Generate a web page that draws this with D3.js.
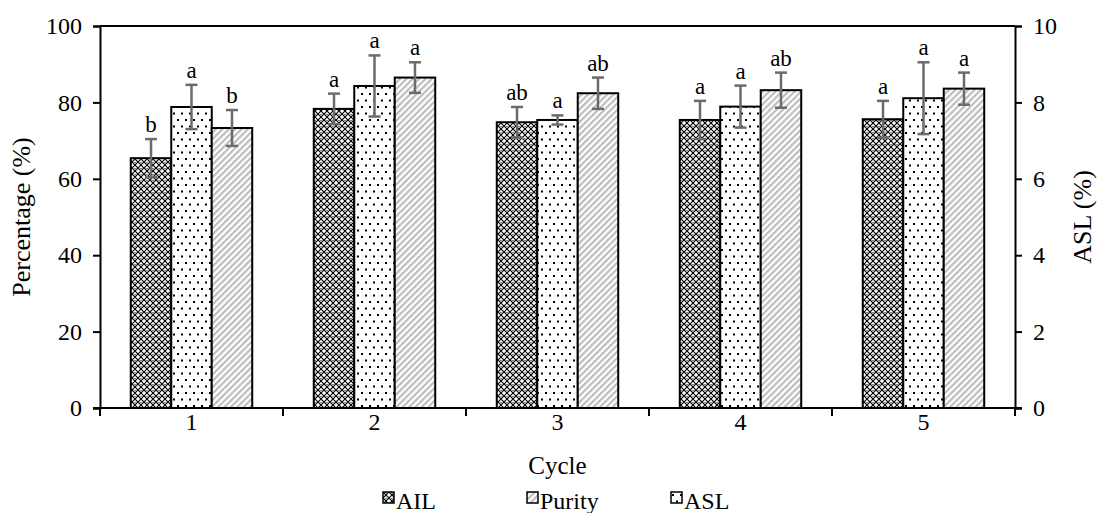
<!DOCTYPE html>
<html>
<head>
  <meta charset="utf-8">
  <title>Cycle chart</title>
  <script type="text/javascript" src="https://d3js.org/d3.v7.min.js"></script>
  <style>
    body { margin: 0; background: #fff; }
    text { font-family: "Liberation Serif", "Times New Roman", serif; fill: #000; }
  </style>
</head>
<body>
<script type="text/javascript">
  // chart data
  var cycles = ["1", "2", "3", "4", "5"];
  var ailValues = [65.4, 78.3, 74.8, 75.4, 75.6];
  var ailErrors = [5.0, 4.0, 4.0, 5.0, 4.8];
  var ailLetters = ["b", "a", "ab", "a", "a"];
  // ASL is read on the right axis (0-10)
  var aslValues = [7.88, 8.43, 7.54, 7.89, 8.11];
  var aslErrors = [0.58, 0.80, 0.12, 0.55, 0.94];
  var aslLetters = ["a", "a", "a", "a", "a"];
  var purityValues = [73.3, 86.5, 82.4, 83.2, 83.6];
  var purityErrors = [4.7, 4.0, 4.1, 4.6, 4.2];
  var purityLetters = ["b", "a", "ab", "ab", "a"];
  var leftTicks = [0, 20, 40, 60, 80, 100];
  var rightTicks = [0, 2, 4, 6, 8, 10];
  var legendOrder = ["AIL", "Purity", "ASL"];

  var w = 1097, h = 513;
  var pLeft = 100, pRight = 1015, pTop = 26, pBottom = 408;

  var svg = d3.select("body").append("svg")
              .attr("width", w)
              .attr("height", h);

  var defs = svg.append("defs");
  // crossed mesh for AIL
  var p1 = defs.append("pattern").attr("id", "pat-ail")
               .attr("patternUnits", "userSpaceOnUse")
               .attr("width", 6).attr("height", 6);
  p1.append("rect").attr("width", 6).attr("height", 6).attr("fill", "#fff");
  p1.append("path").attr("d", "M0,0L6,6M6,0L0,6")
    .attr("stroke", "#000").attr("stroke-width", 1.2);
  p1.append("rect").attr("x", 2.5).attr("y", 0).attr("width", 1).attr("height", 1).attr("fill", "#000");
  // dots for ASL
  var p2 = defs.append("pattern").attr("id", "pat-asl")
               .attr("patternUnits", "userSpaceOnUse")
               .attr("width", 8).attr("height", 13);
  p2.append("rect").attr("width", 8).attr("height", 13).attr("fill", "#fff");
  p2.append("rect").attr("x", 1).attr("y", 2).attr("width", 2).attr("height", 2).attr("fill", "#000");
  p2.append("rect").attr("x", 5).attr("y", 8.5).attr("width", 2).attr("height", 2).attr("fill", "#000");
  // grey diagonal stripes for Purity
  var p3 = defs.append("pattern").attr("id", "pat-purity")
               .attr("patternUnits", "userSpaceOnUse")
               .attr("width", 4.5).attr("height", 4.5)
               .attr("patternTransform", "rotate(45)");
  p3.append("rect").attr("width", 4.5).attr("height", 4.5).attr("fill", "#fff");
  p3.append("rect").attr("width", 2.2).attr("height", 4.5).attr("fill", "#bdbdbd");

  var series = [
    {name: "AIL", values: ailValues, errors: ailErrors, letters: ailLetters, fill: "url(#pat-ail)", axis: "left"},
    {name: "ASL", values: aslValues, errors: aslErrors, letters: aslLetters, fill: "url(#pat-asl)", axis: "right"},
    {name: "Purity", values: purityValues, errors: purityErrors, letters: purityLetters, fill: "url(#pat-purity)", axis: "left"}
  ];

  var x0 = d3.scaleBand().domain(cycles).range([pLeft, pRight]);
  var x1 = d3.scaleBand().domain(series.map(function(s) {return s.name;}))
             .range([0, x0.bandwidth()]).paddingOuter(0.76);
  var yLeft = d3.scaleLinear().domain([0, 100]).range([pBottom, pTop]);
  var yRight = d3.scaleLinear().domain([0, 10]).range([pBottom, pTop]);

  // flatten to one record per bar
  var bars = [];
  series.forEach(function(s) {
    cycles.forEach(function(c, i) {
      bars.push({cycle: c, name: s.name, v: s.values[i], e: s.errors[i],
                 letter: s.letters[i], fill: s.fill,
                 y: s.axis == "left" ? yLeft : yRight});
    });
  });

  var g = svg.append("g");
  g.selectAll("rect.bar")
   .data(bars)
   .enter()
   .append("rect")
   .attr("class", "bar")
   .attr("x", function(d) {return x0(d.cycle) + x1(d.name);})
   .attr("y", function(d) {return d.y(d.v);})
   .attr("width", x1.bandwidth())
   .attr("height", function(d) {return pBottom - d.y(d.v);})
   .attr("fill", function(d) {return d.fill;})
   .attr("stroke", "#000")
   .attr("stroke-width", 2);

  // error bars
  var cap = 6;
  var eb = g.selectAll("g.err").data(bars).enter().append("g").attr("class", "err")
            .attr("stroke", "#6b6b6b").attr("stroke-width", 2.5);
  eb.append("line")
    .attr("x1", function(d) {return x0(d.cycle) + x1(d.name) + x1.bandwidth() / 2;})
    .attr("x2", function(d) {return x0(d.cycle) + x1(d.name) + x1.bandwidth() / 2;})
    .attr("y1", function(d) {return d.y(d.v - d.e);})
    .attr("y2", function(d) {return d.y(d.v + d.e);});
  [-1, 1].forEach(function(sign) {
    eb.append("line")
      .attr("x1", function(d) {return x0(d.cycle) + x1(d.name) + x1.bandwidth() / 2 - cap;})
      .attr("x2", function(d) {return x0(d.cycle) + x1(d.name) + x1.bandwidth() / 2 + cap;})
      .attr("y1", function(d) {return d.y(d.v + sign * d.e);})
      .attr("y2", function(d) {return d.y(d.v + sign * d.e);});
  });

  // significance letters
  g.selectAll("text.letter")
   .data(bars)
   .enter()
   .append("text")
   .attr("class", "letter")
   .attr("x", function(d) {return x0(d.cycle) + x1(d.name) + x1.bandwidth() / 2;})
   .attr("y", function(d) {return d.y(d.v + d.e) - 7;})
   .attr("text-anchor", "middle")
   .style("font-size", "23px")
   .text(function(d) {return d.letter;});

  // frame: top line
  svg.append("line").attr("x1", pLeft).attr("x2", pRight).attr("y1", pTop).attr("y2", pTop)
     .attr("stroke", "#000").attr("stroke-width", 2);

  // axes
  var axL = svg.append("g").attr("transform", "translate(" + pLeft + ",0)")
               .call(d3.axisLeft(yLeft).tickValues(leftTicks).tickSize(7).tickPadding(11));
  var axR = svg.append("g").attr("transform", "translate(" + pRight + ",0)")
               .call(d3.axisRight(yRight).tickValues(rightTicks).tickSize(7).tickPadding(11));
  var axB = svg.append("g").attr("transform", "translate(0," + pBottom + ")")
               .call(d3.axisBottom(x0).tickSize(0).tickPadding(5));
  // band-boundary ticks on the x axis
  var edges = cycles.map(function(c) {return x0(c);}).concat([pRight]);
  axB.selectAll("line.edge").data(edges).enter().append("line")
     .attr("class", "edge")
     .attr("x1", function(d) {return d;}).attr("x2", function(d) {return d;})
     .attr("y1", 0).attr("y2", 8)
     .attr("stroke", "#000").attr("stroke-width", 2);
  axB.select(".domain").attr("d", "M" + (pLeft - 7) + ",0H" + (pRight + 7));

  [axL, axR, axB].forEach(function(a) {
    a.select(".domain").attr("stroke", "#000").attr("stroke-width", 2);
    a.selectAll(".tick line").attr("stroke", "#000").attr("stroke-width", 2);
    a.selectAll("text").style("font-size", "24px").style("font-family", "'Liberation Serif', serif").attr("fill", "#000");
  });

  // axis titles
  svg.append("text").attr("transform", "translate(30," + (pTop + pBottom) / 2 + ") rotate(-90)")
     .attr("text-anchor", "middle").style("font-size", "26px").text("Percentage (%)");
  svg.append("text").attr("transform", "translate(1091," + (pTop + pBottom) / 2 + ") rotate(-90)")
     .attr("text-anchor", "middle").style("font-size", "26px").text("ASL (%)");
  svg.append("text").attr("x", (pLeft + pRight) / 2).attr("y", 474)
     .attr("text-anchor", "middle").style("font-size", "25px").text("Cycle");

  // legend
  var legendX = {"AIL": 383, "Purity": 527, "ASL": 671};
  var fills = {};
  series.forEach(function(s) {fills[s.name] = s.fill;});
  var lg = svg.selectAll("g.leg").data(legendOrder).enter().append("g")
              .attr("class", "leg")
              .attr("transform", function(d) {return "translate(" + legendX[d] + ",492)";});
  lg.append("rect").attr("width", 11).attr("height", 11)
    .attr("fill", function(d) {return fills[d];})
    .attr("stroke", "#000").attr("stroke-width", 1.5);
  lg.append("text").attr("x", 13).attr("y", 17)
    .style("font-size", "24px").text(function(d) {return d;});
</script>
</body>
</html>
